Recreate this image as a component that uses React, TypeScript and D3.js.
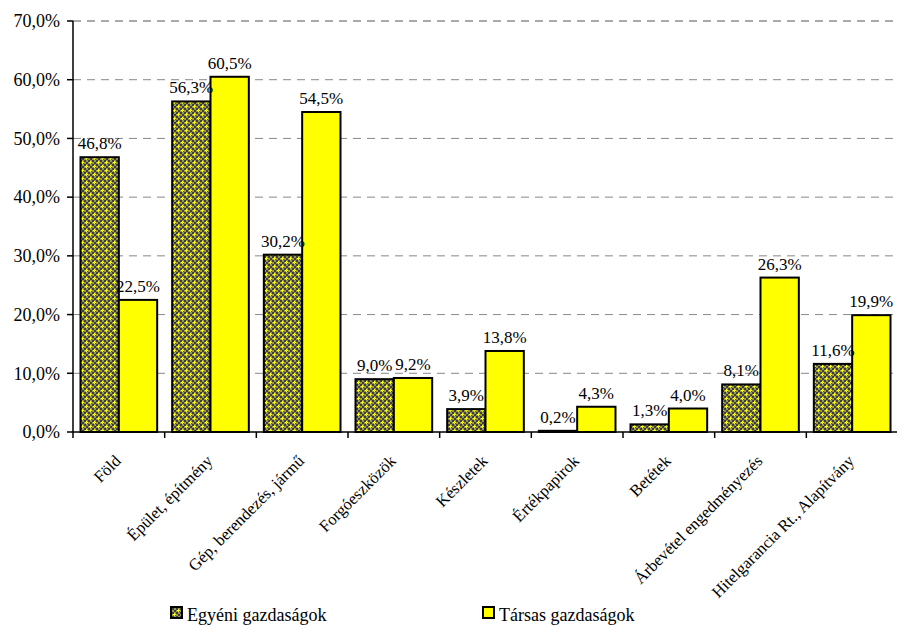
import React from "react";
import * as d3 from "d3";

const categories = [
  "Föld",
  "Épület, építmény",
  "Gép, berendezés, jármű",
  "Forgóeszközök",
  "Készletek",
  "Értékpapirok",
  "Betétek",
  "Árbevétel engedményezés",
  "Hitelgarancia Rt., Alapítvány",
];
const egyeni = [46.8, 56.3, 30.2, 9.0, 3.9, 0.2, 1.3, 8.1, 11.6];
const tarsas = [22.5, 60.5, 54.5, 9.2, 13.8, 4.3, 4.0, 26.3, 19.9];
const seriesNames = ["Egyéni gazdaságok", "Társas gazdaságok"];
const yTicks = [0, 10, 20, 30, 40, 50, 60, 70];

const W = 897;
const H = 625;
const left = 73;
const right = 898;
const top = 21;
const bottom = 432;
const FONT = "Liberation Serif";

const fmt = (v: number) => v.toFixed(1).replace(".", ",") + "%";

export default function App() {
  const x = d3.scaleBand<string>().domain(categories).range([left, right]).paddingInner(0).paddingOuter(0);
  const y = d3.scaleLinear().domain([0, 70]).range([bottom, top]);
  const bw = x.bandwidth();
  const pad = 7.5;
  const barW = (bw - 2 * pad) / 2;
  const series = [egyeni, tarsas];
  const fills = ["url(#pat)", "#ffff00"];

  return (
    <svg width={W} height={H} style={{ position: "absolute", left: 0, top: 0, background: "#fff", fontFamily: FONT }}>
      <defs>
        <pattern id="pat" width={8} height={8} patternUnits="userSpaceOnUse">
          <rect width={8} height={8} fill="#9a9a40" />
          {d3.range(4).flatMap((i) =>
            d3.range(4).map((j) =>
              (i + j) % 2 === 0 ? (
                <rect key={`${i}-${j}`} x={i * 2} y={j * 2} width={2} height={2} fill="#3c3c50" />
              ) : null
            )
          )}
          <rect x={1} y={2} width={3} height={1} fill="#ffff00" />
          <rect x={2} y={1} width={1} height={3} fill="#ffff00" />
          <rect x={5} y={6} width={3} height={1} fill="#ffff00" />
          <rect x={6} y={5} width={1} height={3} fill="#ffff00" />
        </pattern>
      </defs>

      {/* gridlines */}
      {yTicks.filter((t) => t > 0).map((t) => (
        <line key={t} x1={left} x2={right} y1={y(t)} y2={y(t)}
          stroke={t === 70 ? "#555" : "#888"} strokeWidth={1} strokeDasharray="8,6" />
      ))}

      {/* bars */}
      {categories.map((c, i) => (
        <g key={c}>
          {series.map((s, k) => {
            const bx = (x(c) as number) + pad + k * barW;
            return (
              <rect key={k} x={bx} y={y(s[i])} width={barW} height={bottom - y(s[i])}
                fill={fills[k]} stroke="#000" strokeWidth={2} />
            );
          })}
        </g>
      ))}

      {/* value labels */}
      {categories.map((c, i) => (
        <g key={c + "l"}>
          {series.map((s, k) => {
            const cx = (x(c) as number) + pad + k * barW + barW / 2;
            return (
              <text key={k} x={cx} y={y(s[i]) - 8} textAnchor="middle" fontSize={17} fill="#000">
                {fmt(s[i])}
              </text>
            );
          })}
        </g>
      ))}

      {/* y axis */}
      <line x1={left} x2={left} y1={top} y2={bottom} stroke="#000" strokeWidth={1.5} />
      {yTicks.map((t) => (
        <g key={"yt" + t}>
          <line x1={left - 6} x2={left} y1={y(t)} y2={y(t)} stroke="#000" strokeWidth={1.5} />
          <text x={left - 13} y={y(t)} dy="0.35em" textAnchor="end" fontSize={18} fill="#000">
            {fmt(t)}
          </text>
        </g>
      ))}

      {/* x axis */}
      <line x1={left} x2={right} y1={bottom} y2={bottom} stroke="#000" strokeWidth={1.5} />
      {categories.map((c) => (
        <line key={"xt" + c} x1={x(c) as number} x2={x(c) as number} y1={bottom} y2={bottom + 6}
          stroke="#000" strokeWidth={1.5} />
      ))}
      {categories.map((c) => {
        const cx = (x(c) as number) + bw / 2 + 3;
        return (
          <text key={"xl" + c} transform={`translate(${cx},${bottom + 30}) rotate(-45)`}
            textAnchor="end" fontSize={16.5} fill="#000">
            {c}
          </text>
        );
      })}

      {/* legend */}
      <rect x={171} y={607} width={11} height={11} fill="url(#pat)" stroke="#000" strokeWidth={2} />
      <text x={187} y={621} fontSize={18} fill="#000">{seriesNames[0]}</text>
      <rect x={483} y={607} width={11} height={11} fill="#ffff00" stroke="#000" strokeWidth={2} />
      <text x={499} y={621} fontSize={18} fill="#000">{seriesNames[1]}</text>
    </svg>
  );
}
